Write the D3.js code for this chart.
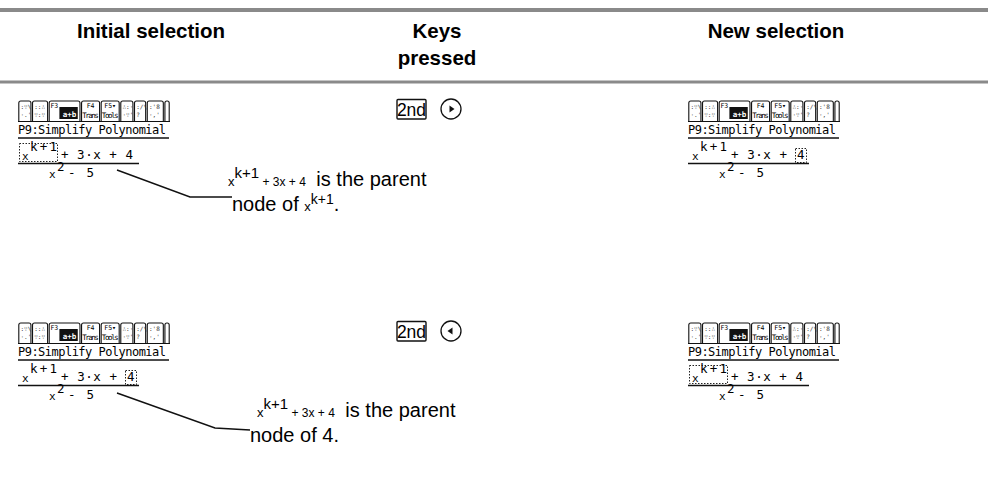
<!DOCTYPE html>
<html><head><meta charset="utf-8">
<script src="https://cdn.jsdelivr.net/npm/d3@7"></script>
<style>body{margin:0;background:#fff}svg{display:block}</style>
</head><body><svg id="c" width="988" height="482"></svg>
<script>
// ---- data ----
const columns = ["initial", "keys", "new"];
const headerLines = [["Initial selection"], ["Keys", "pressed"], ["New selection"]];
const rows = ["row1", "row2"];
const rowKeys = ["2nd", "2nd"];
const rowArrows = ["right", "left"];
const initialSel = ["power", "four"];
const newSel = ["four", "power"];
const screenTitle = "P9:Simplify Polynomial";
const tabTop = ["", "", "F3", "F4", "F5\u25BE", "", "", "", ""];
const tabBottom = ["", "", "", "Trans", "Tools", "", "", "", ""];
const tabWidths = [14, 17, 33, 20, 20, 14, 13, 18, 6];
const iconTop = [":\u2235\\", "::\u2234", "", "", "", "\u2234:\u00B7", ":/\\", ":'8", ""];
const iconBottom = ["\u00B7.'", "\u2235:\u2235", "", "", "", "\u00B7\u2235'", "?", " \u00B7,'", ""];
const parentPhrase = "is the parent";
const nodeOfText = ["node of", "node of 4."];

// ---- layout ----
const svg = d3.select("#c");
const W = 988, H = 482;
const colX = d3.scaleOrdinal().domain(columns).range([151, 437, 776]);
const screenX = d3.scaleOrdinal().domain(["initial", "new"]).range([18, 688]);
const rowY = d3.scaleOrdinal().domain(rows).range([100, 322]);
const grey = "#8a8a8a";
const sans = "'Liberation Sans', Arial, sans-serif";
const mono = "'DejaVu Sans Mono', monospace";

// rules
svg.selectAll("line.rule").data([10, 82]).join("line").attr("class", "rule")
  .attr("x1", 0).attr("x2", W).attr("y1", d => d).attr("y2", d => d)
  .attr("stroke", grey).attr("stroke-width", (d, i) => i === 0 ? 4 : 3);

// headers
const hdr = svg.selectAll("text.hdr").data(columns).join("text").attr("class", "hdr")
  .attr("x", d => colX(d)).attr("y", 38).attr("text-anchor", "middle")
  .attr("font-family", sans).attr("font-weight", "bold").attr("font-size", 20.5);
hdr.selectAll("tspan").data((d, i) => headerLines[i].map(t => ({t, c: d}))).join("tspan")
  .attr("x", d => colX(d.c)).attr("dy", (d, i) => i === 0 ? 0 : 27).text(d => d.t);

// tab x positions
const tabScale = d3.scaleLinear().domain([0, d3.sum(tabWidths)]).range([0, 152]);
const cum = [0]; tabWidths.forEach(w => cum.push(cum[cum.length - 1] + w));

function drawScreen(g, sel) {
  const tabs = g.selectAll("g.tab").data(tabWidths.map((w, i) => ({i, x0: tabScale(cum[i]), x1: tabScale(cum[i + 1])})))
    .join("g").attr("class", "tab");
  tabs.append("path")
    .attr("d", d => `M${d.x0 + 0.8},21 V3 Q${d.x0 + 0.8},1 ${d.x0 + 2.8},1 H${d.x1 - 2.8} Q${d.x1 - 0.8},1 ${d.x1 - 0.8},3 V21`)
    .attr("fill", "none").attr("stroke", "#111").attr("stroke-width", 1.1);
  tabs.filter(d => d.i === 2).append("rect")
    .attr("x", d => d.x0 + 11).attr("y", 7).attr("width", d => d.x1 - d.x0 - 14).attr("height", 12).attr("fill", "#111");
  tabs.filter(d => d.i === 2).append("text")
    .attr("x", d => (d.x0 + 11 + d.x1 - 3) / 2 + 1).attr("y", 17).attr("text-anchor", "middle")
    .attr("font-family", mono).attr("font-size", 7.5).attr("font-weight", "bold").attr("fill", "#fff").text("a+b");
  tabs.filter(d => tabTop[d.i]).append("text").attr("x", d => d.i === 2 ? d.x0 + 2 : (d.x0 + d.x1) / 2).attr("y", 7.5)
    .attr("text-anchor", d => d.i === 2 ? "start" : "middle")
    .attr("font-family", mono).attr("font-size", 6.5).text(d => tabTop[d.i]);
  tabs.filter(d => tabBottom[d.i]).append("text").attr("x", d => (d.x0 + d.x1) / 2).attr("y", 18).attr("text-anchor", "middle")
    .attr("font-family", mono).attr("font-size", 7.5).attr("textLength", d => d.x1 - d.x0 - 3)
    .text(d => tabBottom[d.i]);
  tabs.filter(d => iconTop[d.i]).append("text").attr("x", d => d.x0 + 2.5).attr("y", 9)
    .attr("font-family", mono).attr("font-size", 6).attr("fill", "#333").text(d => iconTop[d.i]);
  tabs.filter(d => iconBottom[d.i]).append("text").attr("x", d => d.x0 + 2.5).attr("y", 17)
    .attr("font-family", mono).attr("font-size", 6).attr("fill", "#333").text(d => iconBottom[d.i]);
  g.append("line").attr("x1", 0).attr("x2", 152).attr("y1", 21.5).attr("y2", 21.5).attr("stroke", "#111");

  // title
  g.append("text").attr("x", 0).attr("y", 34).attr("font-family", mono).attr("font-size", 12)
    .attr("textLength", 148).text(screenTitle);
  g.append("line").attr("x1", 0).attr("x2", 151).attr("y1", 38).attr("y2", 38).attr("stroke", "#111").attr("stroke-width", 1.3);

  const t = (x, y, s, fs, len) => {
    const e = g.append("text").attr("x", x).attr("y", y).attr("font-family", mono).attr("font-size", fs || 12.5).text(s);
    if (len) e.attr("textLength", len);
    return e;
  };
  t(4, 60, "x", 11);
  t(12, 51, "k + 1", 12.5, 27);
  if (sel === "power") {
    t(43, 59, "+ 3\u00B7x + 4", 12.5, 72);
    g.append("rect").attr("x", 1.5).attr("y", 43.5).attr("width", 38).attr("height", 18)
      .attr("fill", "none").attr("stroke", "#222").attr("stroke-dasharray", "1.5,1.5");
  } else {
    t(43, 59, "+ 3\u00B7x +", 12.5, 56);
    t(109, 59, "4", 12.5);
    g.append("rect").attr("x", 107.5).attr("y", 48.5).attr("width", 11).attr("height", 14)
      .attr("fill", "none").attr("stroke", "#222").attr("stroke-dasharray", "1.5,1.5");
  }
  g.append("line").attr("x1", 0).attr("x2", 121).attr("y1", 63.5).attr("y2", 63.5).attr("stroke", "#111").attr("stroke-width", 1.3);
  // denominator
  t(31, 78, "x", 11);
  t(39, 71, "2", 12.5);
  t(50, 77, "- 5", 12.5, 26);
}

rows.forEach((r, i) => {
  const y0 = rowY(r);
  drawScreen(svg.append("g").attr("transform", `translate(${screenX("initial")},${y0})`), initialSel[i]);
  drawScreen(svg.append("g").attr("transform", `translate(${screenX("new")},${y0})`), newSel[i]);

  // keys
  const kx = colX("keys");
  svg.append("rect").attr("x", kx - 40).attr("y", y0 - 0.5).attr("width", 29).attr("height", 19.5)
    .attr("fill", "none").attr("stroke", "#111").attr("stroke-width", 1.4).attr("rx", 1);
  svg.append("text").attr("x", kx - 25.5).attr("y", y0 + 15.5).attr("text-anchor", "middle")
    .attr("font-family", sans).attr("font-size", 17.5).text(rowKeys[i]);
  const cx = kx + 14, cy = y0 + 9;
  svg.append("circle").attr("cx", cx).attr("cy", cy).attr("r", 10).attr("fill", "none").attr("stroke", "#111").attr("stroke-width", 1.3);
  const dir = rowArrows[i] === "right" ? 1 : -1;
  svg.append("path").attr("d", `M${cx + 3.5 * dir},${cy} L${cx - 1.5 * dir},${cy - 3.5} L${cx - 1.5 * dir},${cy + 3.5} Z`).attr("fill", "#111");

  // annotation
  const ax = screenX("initial");
  const pts = i === 0 ? [[ax + 99, y0 + 70], [ax + 172, y0 + 97], [ax + 214, y0 + 97]]
                      : [[ax + 99, y0 + 71], [ax + 197, y0 + 106], [ax + 232, y0 + 108]];
  svg.append("path").attr("d", d3.line()(pts)).attr("fill", "none").attr("stroke", "#111").attr("stroke-width", 1.4);

  const tx = i === 0 ? 228 : 257;
  const ty = i === 0 ? y0 + 86 : y0 + 95;
  const l1 = svg.append("text").attr("x", tx).attr("y", ty).attr("font-family", sans).attr("font-size", 20);
  l1.append("tspan").attr("font-size", 13).text("x");
  l1.append("tspan").attr("font-size", 15).attr("dy", -8).text("k+1");
  l1.append("tspan").attr("font-size", 12).attr("dy", 8).text(" + 3x + 4");
  l1.append("tspan").attr("dx", 5).text("  " + parentPhrase);

  const l2 = svg.append("text").attr("x", i === 0 ? 232 : 250).attr("y", ty + 25).attr("font-family", sans).attr("font-size", 20);
  if (i === 0) {
    l2.append("tspan").text(nodeOfText[0] + "  ");
    l2.append("tspan").attr("font-size", 13).text("x");
    l2.append("tspan").attr("font-size", 14).attr("dy", -7).text("k+1");
    l2.append("tspan").attr("dy", 7).text(".");
  } else {
    l2.text(nodeOfText[1]);
  }
});
</script></body></html>
